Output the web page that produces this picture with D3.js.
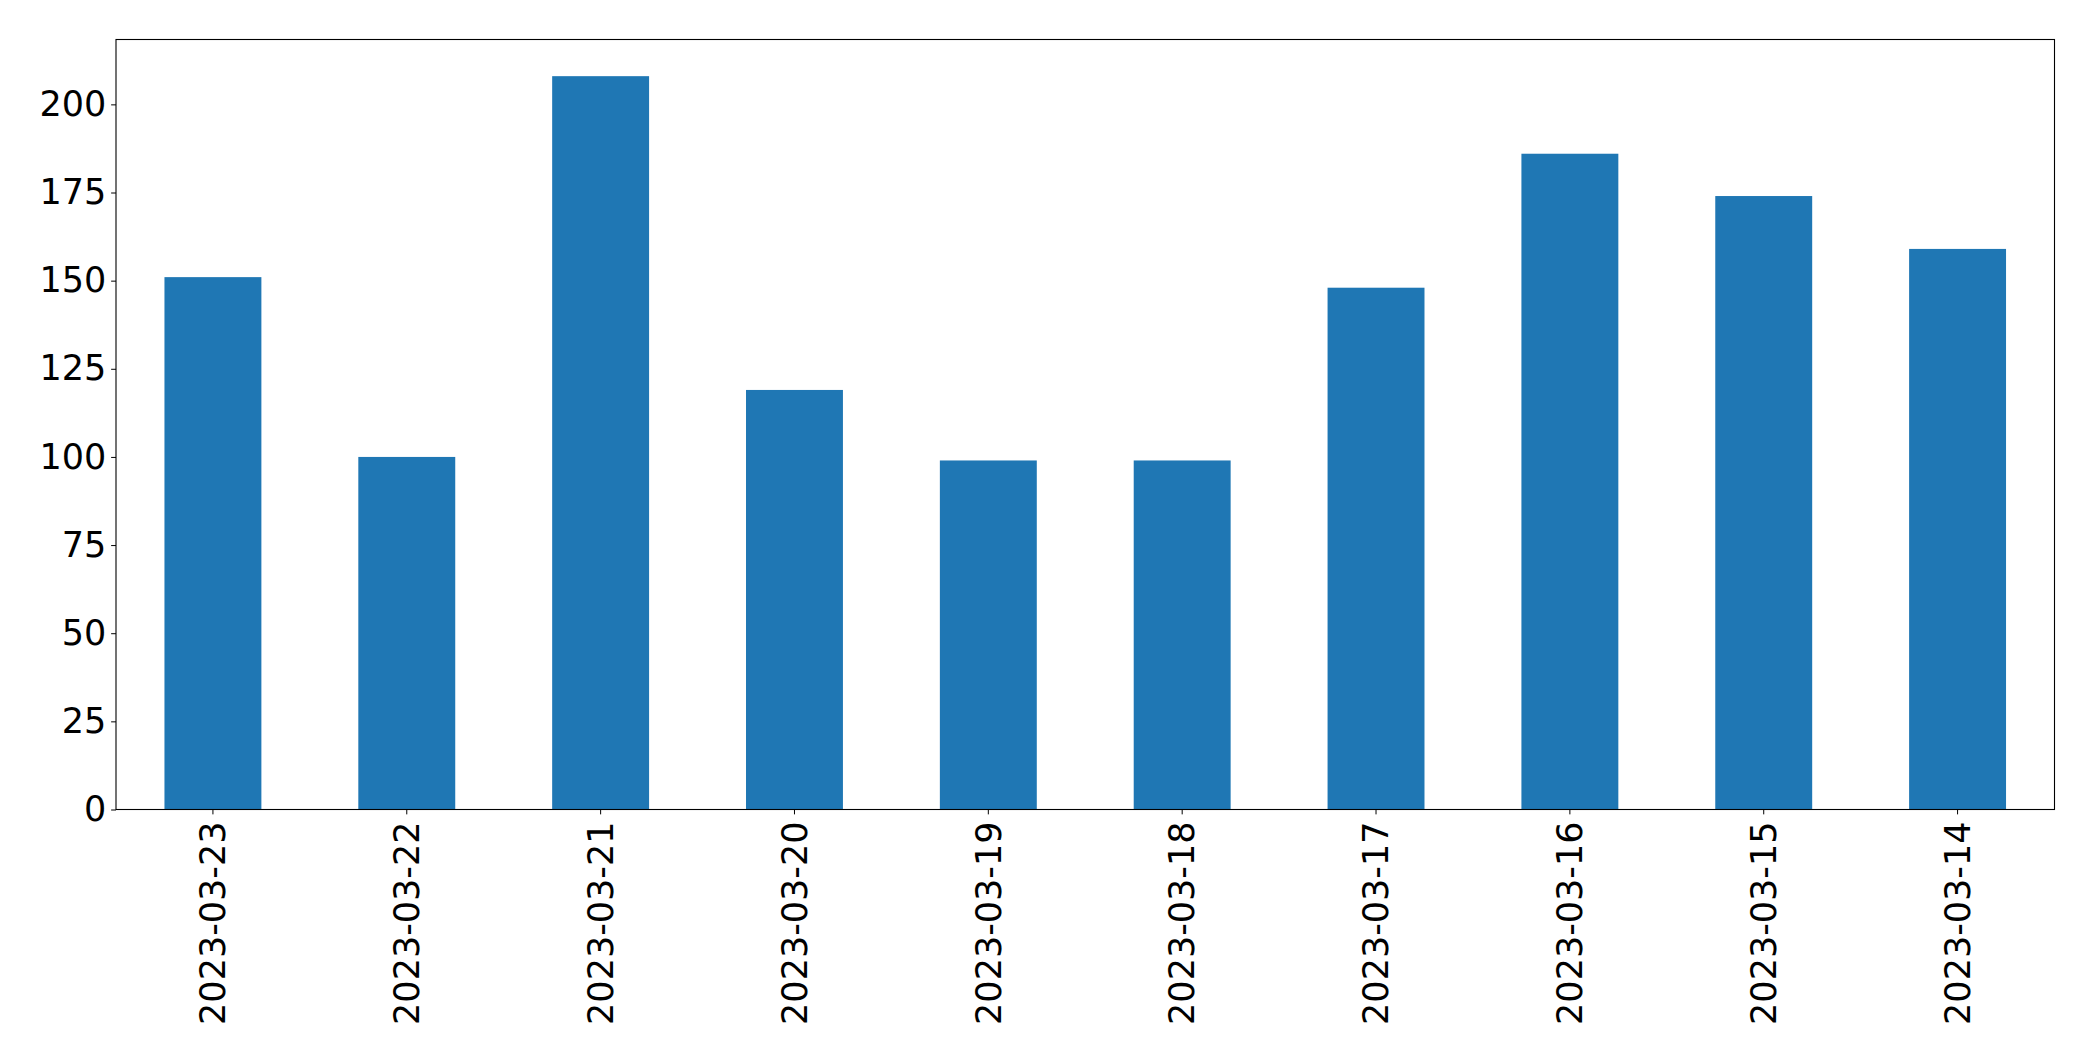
<!DOCTYPE html>
<html>
<head>
<meta charset="utf-8">
<script src="https://cdn.jsdelivr.net/npm/d3@7"></script>
<style>
  html, body { margin: 0; padding: 0; background: #fff; }
  svg { display: block; }
  text { font-family: "DejaVu Sans", sans-serif; }
</style>
</head>
<body>
<script>
const categories = ["2023-03-23","2023-03-22","2023-03-21","2023-03-20","2023-03-19","2023-03-18","2023-03-17","2023-03-16","2023-03-15","2023-03-14"];
const values = [151, 100, 208, 119, 99, 99, 148, 186, 174, 159];
const yTicks = [0, 25, 50, 75, 100, 125, 150, 175, 200];

const W = 2093, H = 1061;
const m = { left: 116, right: W - 2054.5, top: 39.5, bottom: H - 809.5 };
const fontPx = 35;

const svg = d3.select("body").append("svg").attr("width", W).attr("height", H);

const x = d3.scaleBand().domain(categories)
  .range([m.left, W - m.right]).paddingInner(0.5).paddingOuter(0.25);
const y = d3.scaleLinear().domain([0, d3.max(values) * 1.05])
  .range([H - m.bottom, m.top]);

svg.append("g").selectAll("rect").data(values).join("rect")
  .attr("x", (d, i) => x(categories[i]))
  .attr("width", x.bandwidth())
  .attr("y", d => y(d))
  .attr("height", d => y(0) - y(d))
  .attr("fill", "#1f77b4");

const yAxis = svg.append("g").attr("transform", `translate(${m.left},0)`)
  .call(d3.axisLeft(y).tickValues(yTicks).tickSize(4.86).tickPadding(4.86));
const xAxis = svg.append("g").attr("transform", `translate(0,${H - m.bottom})`)
  .call(d3.axisBottom(x).tickSize(4.86).tickPadding(4.86));

[yAxis, xAxis].forEach(a => {
  a.select(".domain").remove();
  a.selectAll(".tick line").attr("stroke", "#000").attr("stroke-width", 1);
  a.selectAll("text").attr("fill", "#000").style("font-size", fontPx + "px")
    .style("font-family", "'DejaVu Sans', sans-serif");
});

xAxis.selectAll(".tick text")
  .attr("transform", "rotate(-90)")
  .attr("text-anchor", "end")
  .attr("x", -12)
  .attr("y", 0)
  .attr("dy", "0.35em");

svg.append("rect")
  .attr("x", m.left).attr("y", m.top)
  .attr("width", W - m.right - m.left).attr("height", H - m.bottom - m.top)
  .attr("fill", "none").attr("stroke", "#000").attr("stroke-width", 1.1);
</script>
</body>
</html>
